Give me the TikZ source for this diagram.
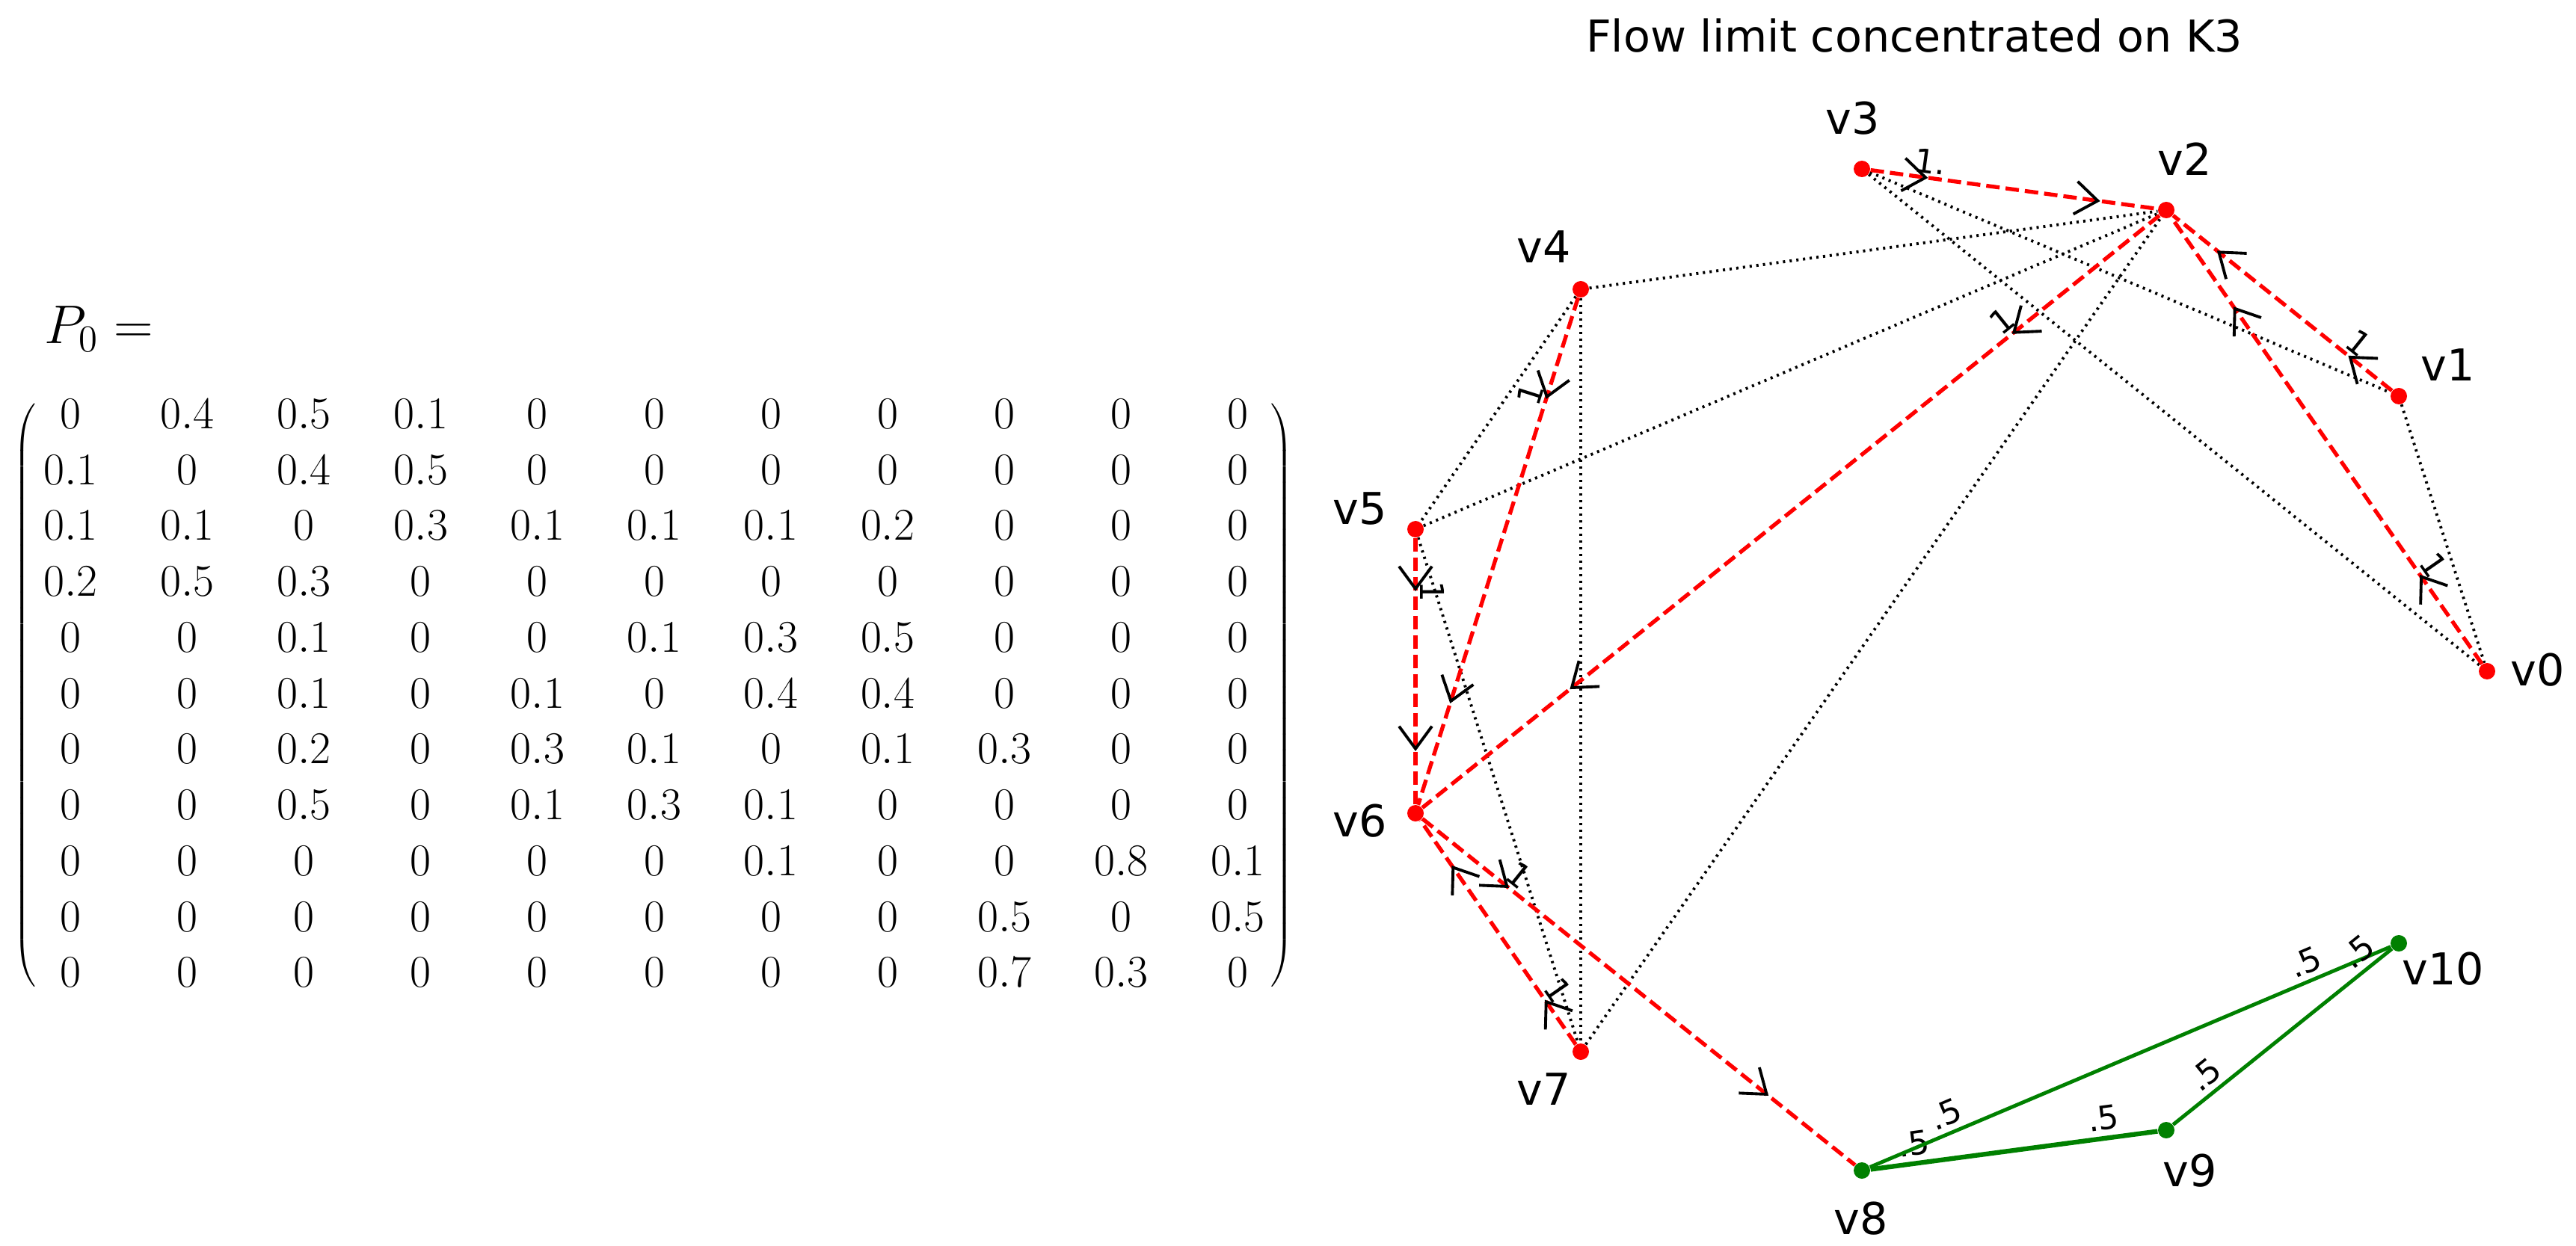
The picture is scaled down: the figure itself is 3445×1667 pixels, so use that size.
\documentclass[tikz,border=0pt]{standalone}
\usepackage{fontspec}
\newfontfamily\dv{DejaVu Sans}
\usetikzlibrary{arrows.meta,decorations.markings,matrix}
\begin{document}
\begin{tikzpicture}[x=0.01cm,y=-0.01cm,
  vtx/.style={circle,fill=#1,inner sep=0,minimum size=0.22cm},
  vlab/.style={font=\dv\fontsize{16.7}{18}\selectfont,inner sep=0},
  elab/.style={font=\dv\fontsize{12.5}{14}\selectfont,inner sep=1pt,sloped,above,black},
  tip/.style={decoration={markings,
     mark=at position 0.2 with {\arrow{Straight Barb[length=0.3cm,width=0.44cm,line width=1.1pt,color=black]}},
     mark=at position 0.8 with {\arrow{Straight Barb[length=0.3cm,width=0.44cm,line width=1.1pt,color=black]}}},
     postaction={decorate}},
  flow/.style={draw=red,line width=1.5pt,dash pattern=on 0.18cm off 0.08cm,tip},
  dot/.style={draw=black,line width=1.1pt,dash pattern=on 0.03cm off 0.06cm},
  grn/.style={draw=green!50!black,line width=1.4pt},
  glab/.style={font=\dv\fontsize{12.5}{14}\selectfont,inner sep=2pt,sloped,above,black}
]
\useasboundingbox (0,0) rectangle (3445,1667);
% matrix
\node[font=\fontsize{20}{24}\selectfont] (p0) at (132,440) {$P_0 =$};
\matrix (P) [matrix of math nodes, anchor=center, column sep=0pt, row sep=0pt,
  nodes={minimum width=1.4cm, minimum height=0.7cm, inner sep=0, font=\fontsize{16.5}{16.5}\selectfont}, column sep=0.16cm, row sep=0.047cm]
  at (875,927.5) {
0 & 0.4 & 0.5 & 0.1 & 0 & 0 & 0 & 0 & 0 & 0 & 0\\
0.1 & 0 & 0.4 & 0.5 & 0 & 0 & 0 & 0 & 0 & 0 & 0\\
0.1 & 0.1 & 0 & 0.3 & 0.1 & 0.1 & 0.1 & 0.2 & 0 & 0 & 0\\
0.2 & 0.5 & 0.3 & 0 & 0 & 0 & 0 & 0 & 0 & 0 & 0\\
0 & 0 & 0.1 & 0 & 0 & 0.1 & 0.3 & 0.5 & 0 & 0 & 0\\
0 & 0 & 0.1 & 0 & 0.1 & 0 & 0.4 & 0.4 & 0 & 0 & 0\\
0 & 0 & 0.2 & 0 & 0.3 & 0.1 & 0 & 0.1 & 0.3 & 0 & 0\\
0 & 0 & 0.5 & 0 & 0.1 & 0.3 & 0.1 & 0 & 0 & 0 & 0\\
0 & 0 & 0 & 0 & 0 & 0 & 0.1 & 0 & 0 & 0.8 & 0.1\\
0 & 0 & 0 & 0 & 0 & 0 & 0 & 0 & 0.5 & 0 & 0.5\\
0 & 0 & 0 & 0 & 0 & 0 & 0 & 0 & 0.7 & 0.3 & 0\\
};
\node[inner sep=0,font=\fontsize{12}{14}\selectfont] (lp) at (35,930) {$\left(\vcenter{\hbox{\rule{0pt}{7.95cm}}}\right.$};
\node[inner sep=0,font=\fontsize{12}{14}\selectfont] (rp) at (1713,930) {$\left.\vcenter{\hbox{\rule{0pt}{7.95cm}}}\right)$};
% title
\node[vlab] (title) at (2560,48) {Flow limit concentrated on K3};
% vertices
\node[vtx=red] (v0) at (3326,898) {};
\node[vtx=red] (v1) at (3208,530) {};
\node[vtx=red] (v2) at (2897,281) {};
\node[vtx=red] (v3) at (2490,226) {};
\node[vtx=red] (v4) at (2114,387) {};
\node[vtx=red] (v5) at (1893,708) {};
\node[vtx=red] (v6) at (1893,1088) {};
\node[vtx=red] (v7) at (2114,1407) {};
\node[vtx=green!50!black] (v8) at (2490,1566) {};
\node[vtx=green!50!black] (v9) at (2897,1512) {};
\node[vtx=green!50!black] (v10) at (3208,1262) {};
\node[vlab] (l0) at (3394,896) {v0};
\node[vlab] (l1) at (3274,488) {v1};
\node[vlab] (l2) at (2922,213) {v2};
\node[vlab] (l3) at (2478,158) {v3};
\node[vlab] (l4) at (2065,330) {v4};
\node[vlab] (l5) at (1819,681) {v5};
\node[vlab] (l6) at (1819,1098) {v6};
\node[vlab] (l7) at (2065,1457) {v7};
\node[vlab] (l8) at (2489,1630) {v8};
\node[vlab] (l9) at (2929,1566) {v9};
\node[vlab] (l10) at (3267,1296) {v10};
% dotted edges
\draw[dot] (v4) -- (v2);
\draw[dot] (v5) -- (v2);
\draw[dot] (v7) -- (v2);
\draw[dot] (v3) -- (v1);
\draw[dot] (v3) -- (v0);
\draw[dot] (v1) -- (v0);
\draw[dot] (v4) -- (v5);
\draw[dot] (v4) -- (v7);
\draw[dot] (v5) -- (v7);
% red flow edges
\path[flow] (v3) -- node[elab,pos=0.2] {1.} (v2);
\path[flow] (v1) -- node[elab,pos=0.2] {1} (v2);
\path[flow] (v0) -- node[elab,pos=0.2] {1} (v2);
\path[flow] (v2) -- node[elab,pos=0.2] {1} (v6);
\path[flow] (v4) -- node[elab,pos=0.2] {1} (v6);
\path[flow] (v5) -- node[elab,pos=0.2] {1} (v6);
\path[flow] (v7) -- node[elab,pos=0.2] {1} (v6);
\path[flow] (v6) -- node[elab,pos=0.2] {1} (v8);
% green edges
\draw[grn,line width=1.8pt] (v8) -- node[glab,pos=0.16] {.5} node[glab,pos=0.82] {.5} (v9);
\draw[grn] (v8) -- node[glab,pos=0.16] {.5} node[glab,pos=0.85] {.5} (v10);
\draw[grn] (v9) -- node[glab,pos=0.2] {.5} node[glab,pos=0.9] {.5} (v10);
\end{tikzpicture}
\end{document}
